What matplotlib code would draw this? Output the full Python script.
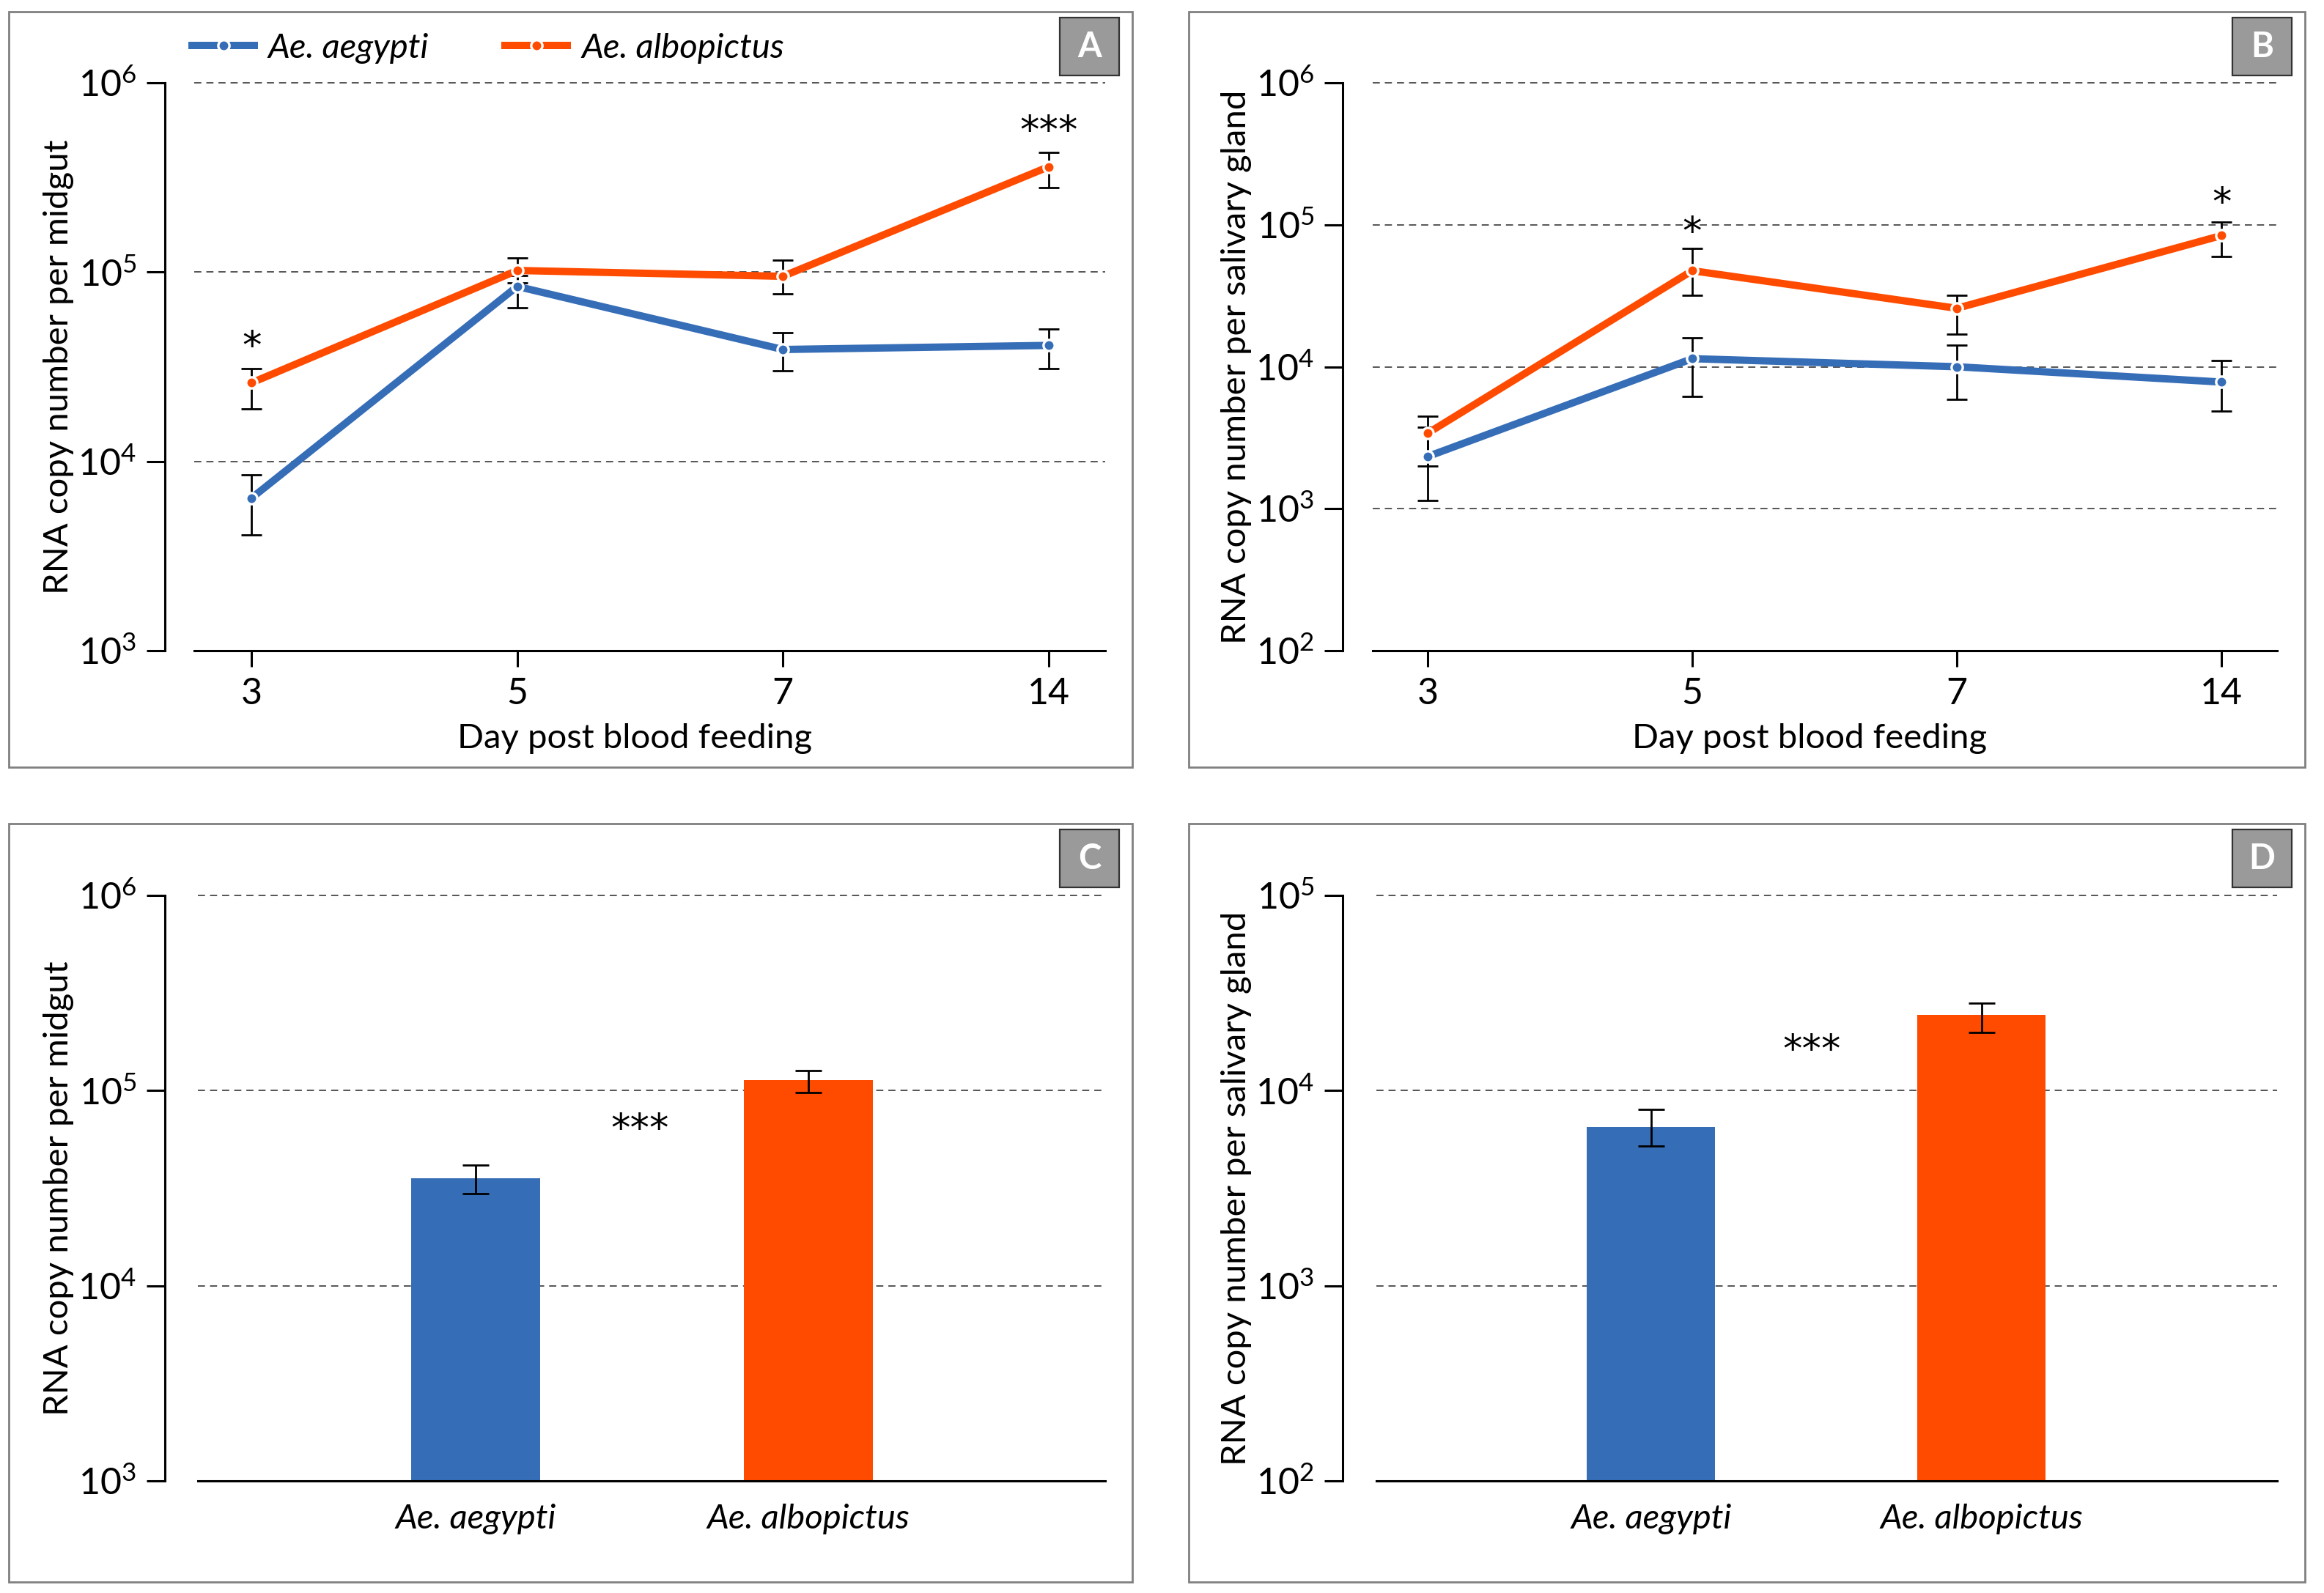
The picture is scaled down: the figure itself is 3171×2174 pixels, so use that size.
import math
import matplotlib
matplotlib.use("Agg")
import matplotlib.pyplot as plt
from matplotlib.patches import Rectangle
from matplotlib.ticker import NullLocator

plt.rcParams['font.family'] = 'Lato'
plt.rcParams['mathtext.default'] = 'regular'

# data (means with lower / upper ends of the error bars)
days = ["3", "5", "7", "14"]
species = ["Ae. aegypti", "Ae. albopictus"]

aeg_midgut = [6.4e3, 8.4e4, 3.9e4, 4.1e4]
aeg_midgut_lo = [4.1e3, 6.5e4, 3.0e4, 3.1e4]
aeg_midgut_hi = [8.5e3, 9.6e4, 4.8e4, 5.0e4]
alb_midgut = [2.6e4, 1.02e5, 9.5e4, 3.6e5]
alb_midgut_lo = [1.9e4, 8.8e4, 7.7e4, 2.8e5]
alb_midgut_hi = [3.1e4, 1.19e5, 1.16e5, 4.3e5]

aeg_gland = [2.33e3, 1.14e4, 1.0e4, 7.8e3]
aeg_gland_lo = [1.14e3, 6.2e3, 5.9e3, 4.9e3]
aeg_gland_hi = [3.75e3, 1.6e4, 1.42e4, 1.11e4]
alb_gland = [3.4e3, 4.75e4, 2.58e4, 8.4e4]
alb_gland_lo = [2.0e3, 3.2e4, 1.7e4, 6.0e4]
alb_gland_hi = [4.5e3, 6.8e4, 3.2e4, 1.05e5]

total_midgut = [3.55e4, 1.13e5]
total_midgut_lo = [2.97e4, 9.8e4]
total_midgut_hi = [4.15e4, 1.27e5]
total_gland = [6.5e3, 2.44e4]
total_gland_lo = [5.2e3, 1.98e4]
total_gland_hi = [8.0e3, 2.8e4]

BLUE = "#366DB7"
ORANGE = "#FF4B00"
STAR_FONT = dict(family='DejaVu Sans', fontsize=19, ha='center', va='center')

W, H = 3171, 2174
fig = plt.figure(figsize=(W / 200, H / 200), dpi=200)


def make_ax(left, right, top, bottom):
    return fig.add_axes([left / W, 1 - bottom / H, (right - left) / W, (bottom - top) / H])


def style_ax(ax, ylo, yhi, xlim, xstart, ylabel):
    ax.set_yscale('log')
    ax.set_ylim(ylo, yhi)
    ax.set_xlim(*xlim)
    ax.yaxis.set_minor_locator(NullLocator())
    decades = []
    v = ylo
    while v <= yhi * 1.01:
        decades.append(v)
        v *= 10
    ax.set_yticks(decades)
    ax.set_yticklabels([r'$10^{%d}$' % round(math.log10(d)) for d in decades])
    ax.hlines(decades[1:], xstart, xlim[1], colors='#555555', linestyles=(0, (5, 3.5)),
              linewidth=0.7, zorder=0, clip_on=False)
    for s in ['top', 'right']:
        ax.spines[s].set_visible(False)
    ax.spines['left'].set_linewidth(1.1)
    ax.spines['bottom'].set_linewidth(1.1)
    ax.spines['bottom'].set_bounds(xstart, xlim[1])
    ax.tick_params(axis='y', length=9, width=1.1, pad=5, labelsize=18)
    ax.set_ylabel(ylabel, fontsize=17)
    ax.yaxis.set_label_coords(-0.097, 0.5)


def line_panel(ax, a, alo, ahi, b, blo, bhi):
    x = list(range(len(days)))
    for m, lo, hi, c in [(a, alo, ahi, BLUE), (b, blo, bhi, ORANGE)]:
        yerr = [[mi - l for mi, l in zip(m, lo)], [h - mi for mi, h in zip(m, hi)]]
        ax.errorbar(x, m, yerr=yerr, fmt='none', ecolor='black', elinewidth=1.0,
                    capsize=5, capthick=1.0, zorder=2)
    la, = ax.plot(x, a, color=BLUE, lw=3.6, marker='o', ms=5.5, mfc=BLUE, mec='white',
                  mew=1.2, zorder=3, label=species[0])
    lb, = ax.plot(x, b, color=ORANGE, lw=3.6, marker='o', ms=5.5, mfc=ORANGE, mec='white',
                  mew=1.2, zorder=4, label=species[1])
    ax.set_xticks(x)
    ax.set_xticklabels(days)
    ax.tick_params(axis='x', length=8, width=1.1, pad=5, labelsize=18)
    ax.set_xlabel("Day post blood feeding", fontsize=17, labelpad=6)
    return la, lb


def bar_panel(ax, vals, lo, hi, width):
    x = [0, 1]
    yerr = [[v - l for v, l in zip(vals, lo)], [h - v for v, h in zip(vals, hi)]]
    base = ax.get_ylim()[0]
    ax.bar(x, [v - base for v in vals], bottom=base, width=width,
           color=[BLUE, ORANGE], zorder=2)
    ax.errorbar(x, vals, yerr=yerr, fmt='none', ecolor='black', elinewidth=1.0,
                capsize=6.5, capthick=1.0, zorder=3)
    ax.set_xticks(x)
    ax.set_xticklabels(species, fontstyle='italic')
    ax.tick_params(axis='x', length=0, pad=11, labelsize=17)


# panel A
axA = make_ax(225, 1508, 113, 888)
style_ax(axA, 1e3, 1e6, (-0.326, 3.213), -0.215, "RNA copy number per midgut")
la, lb = line_panel(axA, aeg_midgut, aeg_midgut_lo, aeg_midgut_hi,
                    alb_midgut, alb_midgut_lo, alb_midgut_hi)
axA.text(0, 4.0e4, "*", **STAR_FONT)
axA.text(3, 5.5e5, "***", **STAR_FONT)
axA.legend(handles=[la, lb], loc='center left', bbox_to_anchor=(262 / W, 1 - 66 / H),
           bbox_transform=fig.transFigure, ncol=2, frameon=False,
           prop={'style': 'italic', 'size': 17}, handlelength=1.8, handletextpad=0.4,
           columnspacing=2.2, borderpad=0, borderaxespad=0, numpoints=1)

# panel B
axB = make_ax(1832, 3107, 113, 888)
style_ax(axB, 1e2, 1e6, (-0.321, 3.21), -0.208, "RNA copy number per salivary gland")
line_panel(axB, aeg_gland, aeg_gland_lo, aeg_gland_hi, alb_gland, alb_gland_lo, alb_gland_hi)
axB.text(1, 8.8e4, "*", **STAR_FONT)
axB.text(3, 1.4e5, "*", **STAR_FONT)

# panel C
axC = make_ax(225, 1508, 1222, 2021)
style_ax(axC, 1e3, 1e6, (-0.934, 1.892), -0.835, "RNA copy number per midgut")
bar_panel(axC, total_midgut, total_midgut_lo, total_midgut_hi, 0.388)
axC.text(0.493, 6.3e4, "***", **STAR_FONT)

# panel D
axD = make_ax(1832, 3107, 1222, 2021)
style_ax(axD, 1e2, 1e5, (-0.933, 1.894), -0.831, "RNA copy number per salivary gland")
bar_panel(axD, total_gland, total_gland_lo, total_gland_hi, 0.388)
axD.text(0.486, 1.6e4, "***", **STAR_FONT)

# panel frames and letter boxes
frames = [(12, 16, 1545, 1047, "A"), (1622, 16, 3145, 1047, "B"),
          (12, 1124, 1545, 2159, "C"), (1622, 1124, 3145, 2159, "D")]
for x0, y0, x1, y1, letter in frames:
    fig.add_artist(Rectangle((x0 / W, 1 - y1 / H), (x1 - x0) / W, (y1 - y0) / H,
                             transform=fig.transFigure, fill=False, ec='#808080', lw=1.0))
    bx0 = x1 - 99
    by0 = y0 + 8
    fig.add_artist(Rectangle((bx0 / W, 1 - (by0 + 79) / H), 81 / W, 79 / H,
                             transform=fig.transFigure, fc='#9a9a9a', ec='#333333', lw=0.8))
    fig.text((bx0 + 40.5) / W, 1 - (by0 + 39.5) / H, letter, ha='center', va='center',
             color='white', fontsize=17, fontweight='bold')

fig.savefig("out.png", dpi=200)
